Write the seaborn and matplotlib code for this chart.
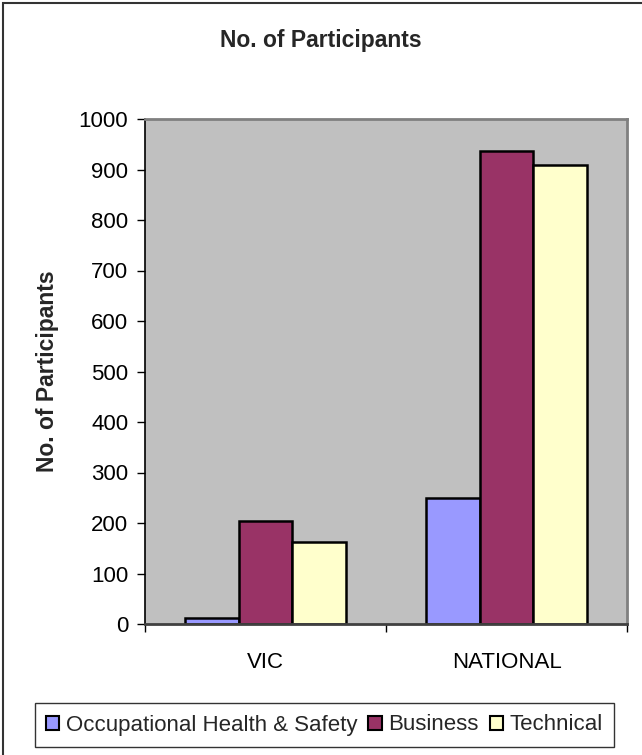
import matplotlib
matplotlib.use("Agg")
import matplotlib.pyplot as plt
from matplotlib.patches import Rectangle
import pandas as pd
import seaborn as sns

# Participant counts by region and program type
regions = ["VIC", "NATIONAL"]
programs = ["Occupational Health & Safety", "Business", "Technical"]
ohs = [12, 249]
business = [204, 937]
technical = [162, 908]
y_ticks = [0, 100, 200, 300, 400, 500, 600, 700, 800, 900, 1000]

colors = ["#9999FF", "#993366", "#FFFFCC"]

rows = []
for prog, vals in zip(programs, [ohs, business, technical]):
    for reg, v in zip(regions, vals):
        rows.append({"Region": reg, "Program": prog, "Participants": v})
df = pd.DataFrame(rows)

sns.set_theme(style="white")
plt.rcParams["font.family"] = ["Liberation Sans", "DejaVu Sans"]

FS = 16
W, H = 642, 755
fig = plt.figure(figsize=(W / 100, H / 100), dpi=100)
fig.patch.set_facecolor("white")
ax = fig.add_axes([145 / W, 1 - 624 / H, (627 - 145) / W, (624 - 119) / H])

sns.barplot(
    data=df, x="Region", y="Participants", hue="Program",
    order=regions, hue_order=programs, palette=colors,
    width=2 / 3, edgecolor="black", linewidth=1.8, saturation=1,
    legend=True, ax=ax,
)

ax.set_facecolor("#C0C0C0")
ax.set_xlim(-0.5, 1.5)
ax.set_ylim(0, 1000)
ax.set_yticks(y_ticks)
ax.set_yticklabels([str(t) for t in y_ticks], fontsize=FS, color="black")
ax.set_xlabel("")
ax.set_ylabel("")

for side in ["top", "right"]:
    ax.spines[side].set_color("#808080")
    ax.spines[side].set_linewidth(2)
ax.spines["left"].set_color("black")
ax.spines["left"].set_linewidth(1.2)
ax.spines["bottom"].set_color("#404040")
ax.spines["bottom"].set_linewidth(2)

ax.tick_params(axis="y", which="major", direction="out", length=6, width=1,
               color="black", pad=6, left=True)
ax.set_xticks([-0.5, 0.5, 1.5], minor=True)
ax.tick_params(axis="x", which="minor", direction="out", length=6, width=1,
               color="black", bottom=True)
ax.tick_params(axis="x", which="major", length=0, pad=20, labelsize=FS,
               labelcolor="black")

# Legend in a framed row beneath the plot
handles, labels = ax.get_legend_handles_labels()
ax.legend_.remove()
leg = fig.legend(
    handles, labels, loc="center", ncol=3,
    bbox_to_anchor=((30 + 619) / 2 / W, 1 - 725 / H),
    fontsize=FS, frameon=True, fancybox=False, edgecolor="black",
    handlelength=0.6, handleheight=0.6, handletextpad=0.3,
    columnspacing=0.5, borderpad=0.5,
)
leg.get_frame().set_linewidth(1)
for h in leg.legend_handles:
    h.set_edgecolor("black")
    h.set_linewidth(1.5)

fig.text(0.5, 1 - 40 / H, "No. of Participants", ha="center", va="center",
         fontsize=16.5, fontweight="bold")
fig.text(48 / W, 1 - 371 / H, "No. of Participants", ha="center", va="center",
         rotation=90, fontsize=16.5, fontweight="bold")

# Chart frame
fig.add_artist(Rectangle((3 / W, -0.05), 1.2, 1 - 3 / H + 0.05,
                         transform=fig.transFigure, fill=False,
                         edgecolor="#333333", linewidth=1.5))

fig.savefig("out.png", dpi=100, facecolor="white")
